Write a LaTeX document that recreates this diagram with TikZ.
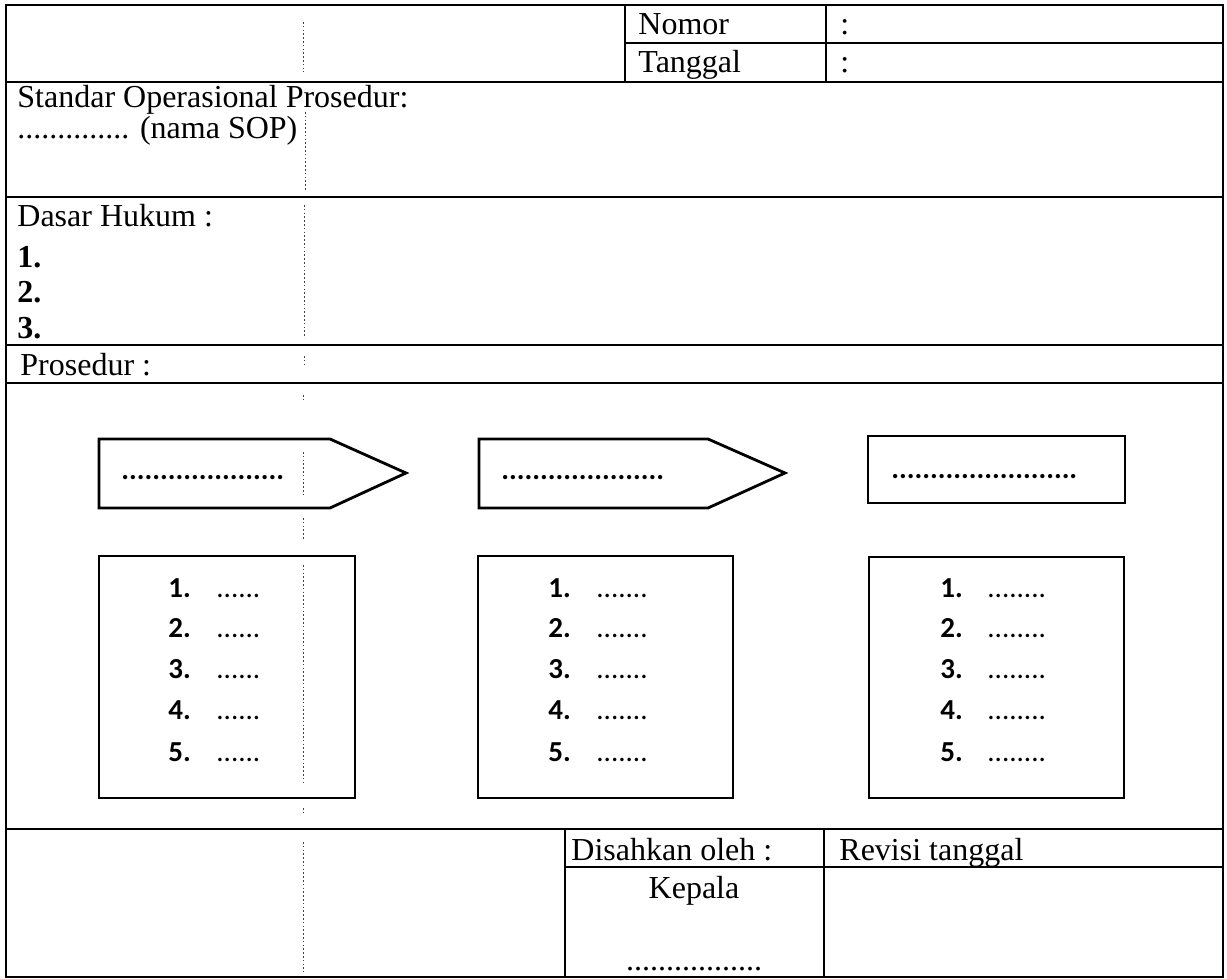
\documentclass[tikz,border=0pt]{standalone}
\usepackage{fontspec}
\setmainfont{Liberation Serif}
\newfontfamily\calfont{Carlito}
\begin{document}
\begin{tikzpicture}[x=0.5pt,y=-0.5pt,
  frame/.style={line width=1.25pt,black},
  shp/.style={line width=1.4pt,black,line join=miter},
  fold/.style={line width=0.5pt,black!75,dash pattern=on 0.8pt off 1.1pt},
  tnr/.style={inner sep=0pt,anchor=base west,font=\fontsize{16pt}{18pt}\selectfont},
  tnrb/.style={inner sep=0pt,anchor=base west,font=\bfseries\fontsize{16pt}{18pt}\selectfont},
  cal/.style={inner sep=0pt,anchor=base west,font=\calfont\fontsize{14.5pt}{17pt}\selectfont},
  calb/.style={inner sep=0pt,anchor=base west,font=\calfont\bfseries\fontsize{14.5pt}{17pt}\selectfont}]
\useasboundingbox (0,0) rectangle (1227,979);
\fill[white] (0,0) rectangle (1227,979);

% outer frame and horizontal rules
\draw[frame] (6,5) rectangle (1223,977);
\draw[frame] (6,82) -- (1223,82);
\draw[frame] (6,197) -- (1223,197);
\draw[frame] (6,345) -- (1223,345);
\draw[frame] (6,383) -- (1223,383);
\draw[frame] (6,829) -- (1223,829);

% top right table
\draw[frame] (625,5) -- (625,82);
\draw[frame] (826,5) -- (826,82);
\draw[frame] (625,43) -- (1223,43);

% bottom right table
\draw[frame] (565,829) -- (565,977);
\draw[frame] (824,829) -- (824,977);
\draw[frame] (565,867) -- (1223,867);

% fold line of the scan
\draw[fold] (303,22) -- (303,72);
\draw[fold] (305,112) -- (305,190);
\draw[fold] (304,205) -- (304,338);
\draw[fold] (304,356) -- (304,366);
\draw[fold] (303,395) -- (303,400);
\draw[fold] (303,452) -- (303,496);
\draw[fold] (303,518) -- (303,540);
\draw[fold] (303,565) -- (303,785);
\draw[fold] (303,808) -- (303,815);
\draw[fold] (303,842) -- (303,972);

% header texts
\node[tnr] (nomor) at (638,35) {Nomor};
\node[tnr] (nomorc) at (840,35) {:};
\node[tnr] (tgl) at (638,73) {Tanggal};
\node[tnr] (tglc) at (840,73) {:};
\node[tnr] (sop1) at (17,108) {Standar Operasional Prosedur:};
\node[tnr] (sop2) at (17,139) {.............. (nama SOP)};
\node[tnr] (dasar) at (17,227) {Dasar Hukum :};
\node[tnrb] (d1) at (17,267) {1.};
\node[tnrb] (d2) at (17,302) {2.};
\node[tnrb] (d3) at (17,338) {3.};
\node[tnr] (pros) at (20,375) {Prosedur :};

% flow shapes
\draw[shp] (99,439) -- (330,439) -- (406,473) -- (330,508) -- (99,508) -- cycle;
\draw[shp] (479,439) -- (708,439) -- (785,473) -- (708,508) -- (479,508) -- cycle;
\draw[shp] (868,436) rectangle (1125,503);
\node[calb] (a1) at (121,479) {.....................};
\node[calb] (a2) at (501,479) {.....................};
\node[calb] (a3) at (891,478) {........................};

\draw[shp] (99,556) rectangle (355,798);
\draw[shp] (478,556) rectangle (733,798);
\draw[shp] (869,557) rectangle (1124,798);

\foreach \n/\yy in {1/597,2/637,3/678,4/719,5/761}{
  \node[calb] (la\n) at (168,\yy) {\n.};
  \node[cal]  (lad\n) at (216,\yy) {......};
  \node[calb] (lb\n) at (548,\yy) {\n.};
  \node[cal]  (lbd\n) at (596,\yy) {.......};
  \node[calb] (lc\n) at (940,\yy) {\n.};
  \node[cal]  (lcd\n) at (987,\yy) {........};
}

% bottom texts
\node[tnr] (sah) at (571,860) {Disahkan oleh :};
\node[tnr] (rev) at (839,860) {Revisi tanggal};
\node[tnr,anchor=base] (kep) at (694,898) {Kepala};
\node[tnr,anchor=base] (ttd) at (694,970) {.................};
\end{tikzpicture}
\end{document}
